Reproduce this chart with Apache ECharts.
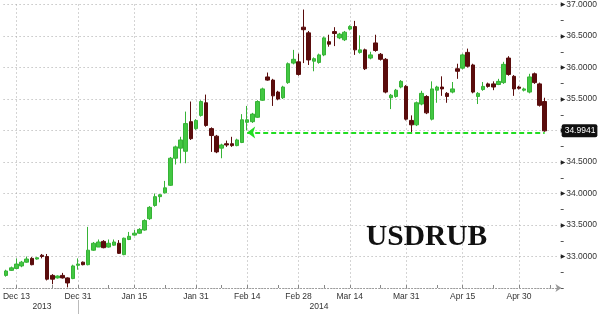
<!DOCTYPE html>
<html>
<head>
<meta charset="utf-8">
<script src="https://cdn.jsdelivr.net/npm/echarts@6/dist/echarts.min.js"></script>
<style>
html,body{margin:0;padding:0;background:#fff;}
#c{width:600px;height:314px;}
</style>
</head>
<body>
<div id="c"></div>
<script>
// ---- data ----
const firstDate = '2013-12-11';
const lastAxisDate = '2014-05-09';
const tickDates = ['2013-12-13','2013-12-31','2014-01-15','2014-01-31','2014-02-14','2014-02-28','2014-03-14','2014-03-31','2014-04-15','2014-04-30'];
const tickLabels = ['Dec 13','Dec 31','Jan 15','Jan 31','Feb 14','Feb 28','Mar 14','Mar 31','Apr 15','Apr 30'];
const minorTickDates = ['2013-12-24','2014-01-08','2014-01-23','2014-02-07','2014-02-24','2014-03-07','2014-03-24','2014-04-08','2014-04-23','2014-05-08'];
const years = ['2013','2014'];
const yearBreakDate = '2013-12-31';
const seriesName = 'USDRUB';

const opens = [32.70,32.78,32.81,32.85,32.91,32.97,32.96,33.02,33.00,32.70,
32.66,32.70,32.66,32.65,32.86,32.91,32.87,33.10,33.15,33.24,
33.15,33.18,33.21,33.03,33.27,33.34,33.37,33.42,33.60,33.81,
33.95,34.01,34.13,34.56,34.72,34.67,35.14,35.03,35.24,35.44,
35.03,34.91,34.72,34.79,34.79,34.76,34.81,35.13,35.14,35.21,
35.48,35.85,35.80,35.61,35.52,35.76,36.07,36.09,36.64,36.55,
36.10,36.08,36.20,36.41,36.57,36.47,36.44,36.61,36.65,36.24,
36.28,36.15,36.39,36.21,36.13,35.52,35.54,35.69,35.70,35.16,
35.09,35.42,35.54,35.18,35.64,35.69,35.59,35.61,35.98,35.99,
36.24,36.04,35.54,35.65,35.74,35.74,35.73,35.76,36.15,35.86,
35.69,35.64,35.61,35.90,35.74,35.46];
const closes = [32.77,32.82,32.88,32.91,32.96,32.87,32.98,33.00,32.64,32.64,
32.69,32.66,32.58,32.85,32.88,32.87,33.10,33.21,33.23,33.14,
33.21,33.23,33.05,33.29,33.32,33.37,33.43,33.57,33.78,33.95,
33.98,34.09,34.56,34.74,34.85,35.11,34.87,35.16,35.46,35.08,
34.92,34.66,34.77,34.77,34.76,34.85,35.17,35.17,35.26,35.46,
35.66,35.80,35.55,35.50,35.69,36.06,36.13,35.89,36.60,36.12,
36.14,36.20,36.47,36.37,36.54,36.53,36.56,36.65,36.28,36.28,
35.98,36.20,36.27,36.13,35.61,35.56,35.64,35.78,35.18,35.09,
35.44,35.59,35.28,35.66,35.69,35.66,35.54,35.66,35.94,36.20,
36.02,35.61,35.59,35.70,35.70,35.69,35.78,36.05,35.89,35.66,
35.67,35.66,35.85,35.76,35.40,34.9941];
const lows = [32.68,32.77,32.80,32.83,32.90,32.86,32.95,32.97,32.62,32.56,
32.65,32.65,32.51,32.64,32.79,32.86,32.86,33.09,33.15,33.13,
33.14,33.17,33.04,33.02,33.26,33.33,33.36,33.41,33.58,33.79,
33.86,34.00,34.12,34.46,34.48,34.48,34.85,35.01,35.22,35.06,
34.66,34.64,34.56,34.74,34.74,34.75,34.80,35.00,35.12,35.20,
35.47,35.79,35.39,35.48,35.50,35.74,36.05,35.87,36.07,36.04,
35.94,36.06,36.18,36.33,36.34,36.45,36.42,36.59,36.20,36.22,
35.96,36.13,36.25,36.11,35.59,35.34,35.52,35.67,35.16,34.97,
35.07,35.40,35.26,35.16,35.44,35.55,35.44,35.59,35.82,35.97,
36.00,35.59,35.42,35.63,35.68,35.64,35.72,35.74,35.87,35.55,
35.65,35.62,35.59,35.74,35.38,34.98];
const highs = [32.79,32.84,32.97,32.93,33.00,32.99,32.99,33.04,33.04,32.72,
32.70,32.74,32.67,32.87,32.97,32.92,33.47,33.23,33.27,33.26,
33.27,33.27,33.26,33.30,33.39,33.42,33.45,33.59,33.80,34.00,
33.99,34.20,34.58,34.76,34.90,35.30,35.46,35.18,35.48,35.57,
35.05,34.93,34.79,34.84,34.90,34.87,35.26,35.39,35.28,35.48,
35.68,35.92,35.82,35.63,35.71,36.08,36.28,36.22,36.92,36.58,
36.16,36.22,36.49,36.52,36.64,36.55,36.58,36.67,36.74,36.51,
36.30,36.25,36.52,36.23,36.15,35.58,35.66,35.80,35.72,35.24,
35.46,35.63,35.56,35.78,35.71,35.86,35.61,35.77,36.06,36.22,
36.30,36.06,35.61,35.77,35.76,35.78,35.82,36.09,36.18,35.88,
35.71,35.68,35.90,35.92,35.76,35.52];
const supportLevel = 34.97;
const arrowFromDate = '2014-02-14';

// ---- categories: trading weekdays ----
function weekdays(from, to) {
  const out = [];
  const d = new Date(from + 'T00:00:00Z');
  const end = new Date(to + 'T00:00:00Z');
  while (d <= end) {
    const wd = d.getUTCDay();
    if (wd !== 0 && wd !== 6) out.push(d.toISOString().slice(0, 10));
    d.setUTCDate(d.getUTCDate() + 1);
  }
  return out;
}
const categories = weekdays(firstDate, lastAxisDate);
const candleData = opens.map((o, i) => [o, closes[i], lows[i], highs[i]]);
const lastDate = categories[closes.length - 1];

// year label positions: middle of each year's span of categories
const yearMid = {};
years.forEach(y => {
  const idx = categories.map((c, i) => c.startsWith(y) ? i : -1).filter(i => i >= 0);
  yearMid[categories[Math.round((idx[0] + idx[idx.length - 1]) / 2)]] = y;
});

const FONT = 'Liberation Sans';
const chart = echarts.init(document.getElementById('c'), null, {renderer: 'canvas', width: 600, height: 314});
const gridDots = {color: '#a8a8a8', width: 1, type: [1, 3]};

chart.setOption({
  animation: false,
  backgroundColor: '#ffffff',
  grid: {left: 1.4, top: 0, width: 558.4, height: 288, containLabel: false},
  xAxis: [{
    type: 'category', data: categories, boundaryGap: true,
    axisLine: {show: true, symbol: ['none', 'arrow'], symbolSize: [6, 6], symbolOffset: [0, 4],
      lineStyle: {color: '#999', width: 1, type: [1, 2]}},
    axisTick: {show: true, alignWithLabel: true, inside: true, length: 3,
      interval: (i, v) => tickDates.includes(v) || minorTickDates.includes(v),
      lineStyle: {color: '#888'}},
    axisLabel: {interval: (i, v) => tickDates.includes(v),
      formatter: v => { const k = tickDates.indexOf(v); return k >= 0 ? tickLabels[k] : ''; },
      margin: 4, color: '#333', fontSize: 8.5, fontFamily: FONT},
    splitLine: {show: true, alignWithLabel: true, interval: (i, v) => tickDates.includes(v), lineStyle: gridDots}
  }, {
    type: 'category', data: categories, boundaryGap: true, position: 'bottom', offset: 12,
    axisLine: {show: false},
    axisTick: {show: true, alignWithLabel: true, length: 14, interval: (i, v) => v === yearBreakDate,
      lineStyle: {color: '#bbb'}},
    axisLabel: {interval: (i, v) => yearMid[v] !== undefined, formatter: v => yearMid[v] || '',
      margin: 2, color: '#333', fontSize: 8.5, fontFamily: FONT},
    splitLine: {show: false}
  }],
  yAxis: {
    type: 'value', position: 'right', offset: 3.2, min: 32.5, max: 37, interval: 0.5,
    axisLine: {show: false},
    axisTick: {show: true, length: 3, lineStyle: {color: '#555'}},
    minorTick: {show: true, splitNumber: 2, length: 3, lineStyle: {color: '#555'}},
    splitLine: {show: true, lineStyle: gridDots},
    axisLabel: {margin: 0,
      formatter: v => v <= 32.5 ? '' : '{a|\u25B6}{b|' + Number(v).toFixed(4) + '}',
      rich: {a: {fontSize: 6, color: '#222', fontFamily: 'DejaVu Sans', padding: [0, 1, 0, 0]},
             b: {fontSize: 8.5, color: '#333', fontFamily: FONT}}},
    axisPointer: {show: true, type: 'line', value: closes[closes.length - 1], status: 'show',
      snap: false, triggerTooltip: false, lineStyle: {opacity: 0, width: 0},
      handle: {show: false},
      label: {show: true, formatter: p => Number(p.value).toFixed(4), backgroundColor: '#111',
        color: '#fff', fontSize: 8.5, fontFamily: FONT, padding: [2, 2, 2, 3], borderRadius: 2, margin: 1}}
  },
  graphic: [{
    type: 'text', left: 366, top: 222,
    style: {text: seriesName, font: 'bold 29.5px "Liberation Serif"', fill: '#111'}
  }],
  series: [{
    type: 'candlestick', name: seriesName, data: candleData, barWidth: 4, z: 3,
    itemStyle: {color: '#42c742', color0: '#5a0c0c', borderColor: '#36b336', borderColor0: '#5a0c0c', borderWidth: 1},
    emphasis: {disabled: true},
    markLine: {silent: true, z: 6, symbol: ['arrow', 'none'], symbolSize: [9, 8], animation: false,
      label: {show: false}, emphasis: {disabled: true},
      lineStyle: {color: '#22dd22', width: 2, type: [5, 3]},
      data: [[{coord: [arrowFromDate, supportLevel]}, {coord: [lastDate, supportLevel]}]]}
  }]
});
</script>
</body>
</html>
